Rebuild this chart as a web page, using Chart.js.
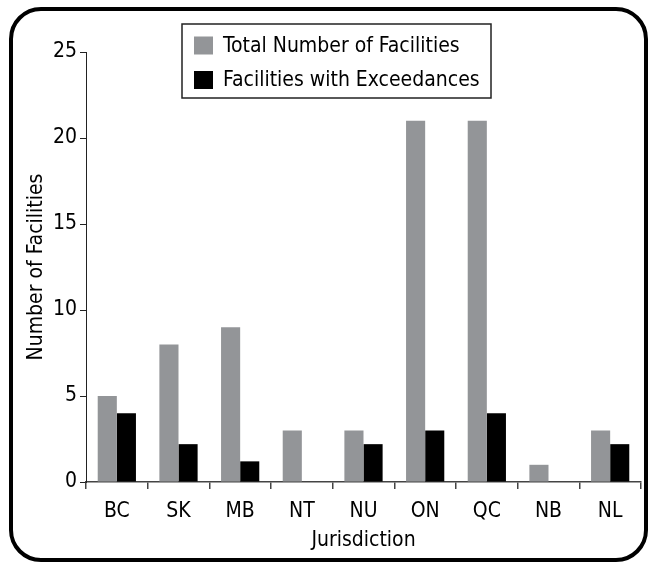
<!DOCTYPE html>
<html>
<head>
<meta charset="utf-8">
<script src="https://cdn.jsdelivr.net/npm/chart.js@4"></script>
<style>
html,body{margin:0;padding:0;background:#fff;}
#wrap{position:relative;width:649px;height:563px;}
</style>
</head>
<body>
<div id="wrap"><canvas id="c" width="649" height="563"></canvas></div>
<script>
const categories = ['BC','SK','MB','NT','NU','ON','QC','NB','NL'];
const totalFacilities = [5, 8, 9, 3, 3, 21, 21, 1, 3];
const exceedFacilities = [4, 2.2, 1.2, 0, 2.2, 3, 4, 0, 2.2];
const yTicks = [0, 5, 10, 15, 20, 25];
const seriesLabels = ['Total Number of Facilities', 'Facilities with Exceedances'];

const FONT = "'Liberation Sans Narrow', 'Arial Narrow', 'DejaVu Sans Condensed', sans-serif";

const framePlugin = {
  id: 'frame',
  afterDraw(chart) {
    const ctx = chart.ctx;
    ctx.save();
    ctx.lineWidth = 4;
    ctx.strokeStyle = '#000';
    ctx.beginPath();
    ctx.roundRect(11, 9, 635, 551, 30);
    ctx.stroke();
    ctx.restore();
  }
};

const legendPlugin = {
  id: 'boxLegend',
  afterDatasetsDraw(chart) {
    const ctx = chart.ctx;
    ctx.save();
    ctx.fillStyle = '#fff';
    ctx.fillRect(182, 24, 309, 74);
    ctx.lineWidth = 1.5;
    ctx.strokeStyle = '#222';
    ctx.strokeRect(182, 24, 309, 74);
    ctx.font = "21px " + FONT;
    ctx.textBaseline = 'middle';
    ctx.textAlign = 'left';
    const rows = [45.5, 80];
    chart.data.datasets.forEach((ds, i) => {
      ctx.fillStyle = ds.backgroundColor;
      ctx.fillRect(194, rows[i] - 9, 19, 18);
      ctx.fillStyle = '#000';
      ctx.fillText(ds.label, 223, rows[i] + 1);
    });
    ctx.restore();
  }
};

new Chart(document.getElementById('c'), {
  type: 'bar',
  data: {
    labels: categories,
    datasets: [
      { label: seriesLabels[0], data: totalFacilities, backgroundColor: '#939598', borderWidth: 0 },
      { label: seriesLabels[1], data: exceedFacilities, backgroundColor: '#000000', borderWidth: 0 }
    ]
  },
  options: {
    responsive: false,
    animation: false,
    devicePixelRatio: 1,
    layout: { padding: { left: 20, right: 8, top: 52, bottom: 6 } },
    datasets: { bar: { categoryPercentage: 0.62, barPercentage: 1.0 } },
    plugins: { legend: { display: false }, tooltip: { enabled: false } },
    scales: {
      x: {
        grid: { display: true, drawOnChartArea: false, offset: true, tickLength: 7, color: '#444', lineWidth: 1.5 },
        border: { display: true, color: '#444', width: 1.5 },
        ticks: { color: '#000', font: { family: FONT, size: 21 }, padding: 10 },
        title: { display: true, text: 'Jurisdiction', color: '#000', font: { family: FONT, size: 21 } },
        afterFit(scale) { scale.height = 75; }
      },
      y: {
        min: 0, max: 25,
        afterBuildTicks(scale) { scale.ticks = yTicks.map(v => ({ value: v })); },
        grid: { display: true, drawOnChartArea: false, tickLength: 6, color: '#222', lineWidth: 1 },
        border: { display: true, color: '#222', width: 1 },
        ticks: { color: '#000', font: { family: FONT, size: 21 }, padding: 3 },
        title: { display: true, text: 'Number of Facilities', color: '#000', font: { family: FONT, size: 21 } },
        afterFit(scale) { scale.width = 66; }
      }
    }
  },
  plugins: [legendPlugin, framePlugin]
});
</script>
</body>
</html>
